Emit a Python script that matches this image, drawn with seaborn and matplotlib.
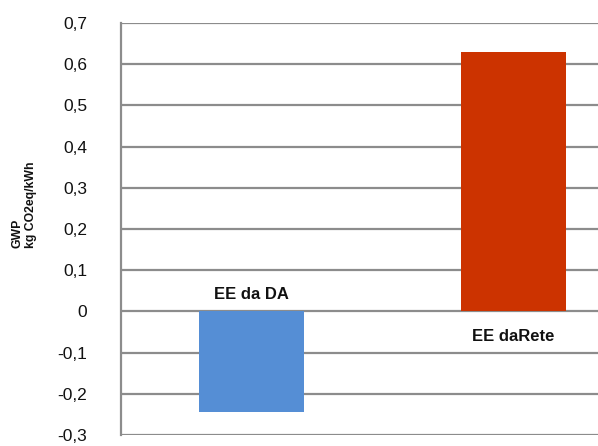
#!/usr/bin/env python3
"""GWP per kWh: self-produced electricity vs grid electricity."""

import matplotlib
matplotlib.use("Agg")
import matplotlib.pyplot as plt
import pandas as pd
import seaborn as sns

CATEGORIES = ["EE da DA", "EE daRete"]
GWP = [-0.245, 0.63]
COLORS = ["#558ED5", "#CC3300"]
Y_TICKS = [-0.3, -0.2, -0.1, 0.0, 0.1, 0.2, 0.3, 0.4, 0.5, 0.6, 0.7]
# label heights (data units) for the category names
LABEL_Y = [0.042, -0.062]


def fmt(v: float) -> str:
    if abs(v) < 1e-9:
        return "0"
    return f"{v:.1f}".replace(".", ",")


def main() -> None:
    sns.set_theme(style="white")
    plt.rcParams["font.family"] = ["Liberation Sans", "DejaVu Sans"]

    df = pd.DataFrame({"cat": CATEGORIES, "gwp": GWP})

    fig = plt.figure(figsize=(5.98, 4.46), dpi=100)
    ax = fig.add_axes([120.5 / 598, 11 / 446, 1 - 120.5 / 598, 412 / 446])

    sns.barplot(
        data=df, x="cat", y="gwp", hue="cat", palette=COLORS,
        width=0.40, saturation=1, legend=False, ax=ax, zorder=3,
        linewidth=0, edgecolor="none",
    )

    ax.set_xlim(-0.5, 1.3225)
    ax.set_ylim(-0.3, 0.7)
    ax.set_yticks(Y_TICKS)
    ax.set_yticklabels([fmt(v) for v in Y_TICKS], fontsize=12.5, color="#111111")
    ax.tick_params(axis="y", length=0, pad=24)
    ax.set_xticks([])
    ax.set_xlabel("")
    ax.set_ylabel("")

    ax.grid(axis="y", color="#8c8c8c", linewidth=1.6, zorder=0)
    ax.set_axisbelow(True)
    for side in ["top", "right", "bottom"]:
        ax.spines[side].set_visible(False)
    ax.spines["left"].set_color("#8c8c8c")
    ax.spines["left"].set_linewidth(1.6)

    for i, (name, ly) in enumerate(zip(CATEGORIES, LABEL_Y)):
        ax.text(i, ly, name, ha="center", va="center", fontsize=12,
                fontweight="bold", color="#111111", zorder=4)

    fig.text(0.040, 0.540, "GWP\nkg CO2eq/kWh", rotation=90, ha="center",
             va="center", multialignment="left", fontsize=8.8,
             fontweight="bold", color="#111111")

    fig.savefig("out.png", dpi=100)


if __name__ == "__main__":
    main()
